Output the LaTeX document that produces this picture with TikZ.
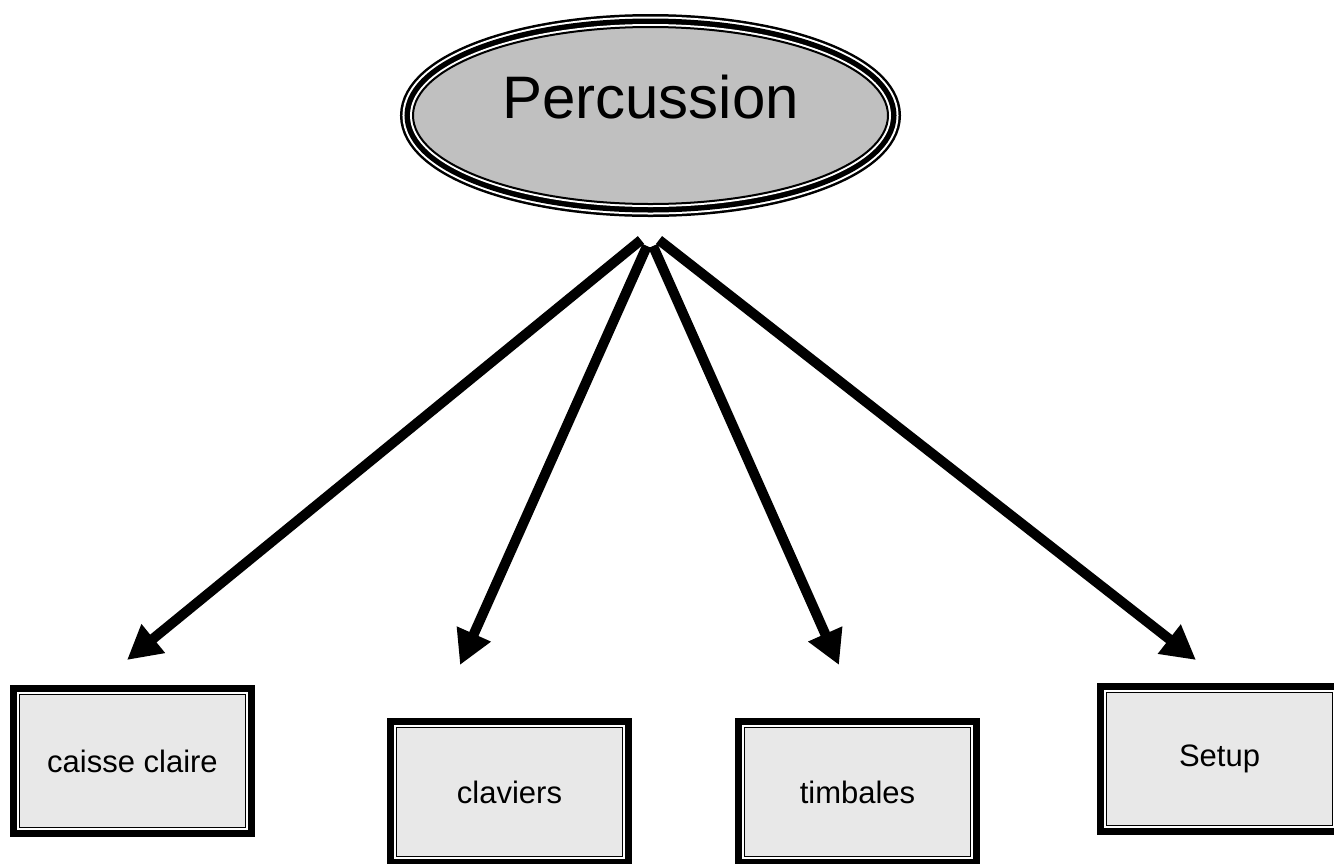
\documentclass[tikz,border=0pt]{standalone}
\usepackage{fontspec}
\setmainfont{Liberation Sans}
\usetikzlibrary{shapes.geometric,arrows.meta}
\definecolor{ovalgray}{HTML}{C0C0C0}
\definecolor{boxgray}{HTML}{E8E8E8}
\tikzset{
  ovalnode/.style={ellipse, inner sep=0pt, minimum width=237.5pt, minimum height=88.5pt,
    fill=ovalgray, draw=black, line width=1pt,
    preaction={draw=black, line width=13pt},
    preaction={draw=white, line width=10.5pt},
    preaction={draw=black, line width=8.5pt},
    preaction={draw=white, line width=3pt},
    font=\fontsize{30pt}{36pt}\selectfont, text height=21.5pt, text depth=19pt},
  boxnode/.style={rectangle, inner sep=0pt, minimum width=113.15pt, minimum height=66.65pt,
    fill=boxgray, draw=black, line width=0.65pt,
    preaction={draw=black, line width=9.35pt},
    preaction={draw=white, line width=2.35pt},
    font=\fontsize{15.5pt}{18.6pt}\selectfont},
  link/.style={draw=black, line width=5pt, -{Triangle[length=17pt,width=17.5pt]}}
}
\begin{document}
\begin{tikzpicture}[x=0.5pt,y=-0.5pt]
\useasboundingbox (0,0) rectangle (1334,863);
\clip (0,0) rectangle (1334,863);
\node[ovalnode] (perc) at (650.5,115.5) {Percussion};
\node[boxnode] (caisse) at (132.5,761) {caisse claire};
\node[boxnode, minimum height=64.65pt] (clav) at (509.5,792) {claviers};
\node[boxnode, minimum height=64.65pt] (timb) at (857.5,792) {timbales};
\node[boxnode] (setup) at (1219.5,759) {Setup};
\coordinate (s1) at (641,240);
\coordinate (s2) at (647,246);
\coordinate (s3) at (653,246);
\coordinate (s4) at (659,240);
\coordinate (t1) at (127,660);
\coordinate (t2) at (460,665);
\coordinate (t3) at (839,665);
\coordinate (t4) at (1196,660);
\draw[link] (s2) -- (t2);
\draw[link] (s3) -- (t3);
\draw[link] (s1) -- (t1);
\draw[link] (s4) -- (t4);
\end{tikzpicture}
\end{document}
